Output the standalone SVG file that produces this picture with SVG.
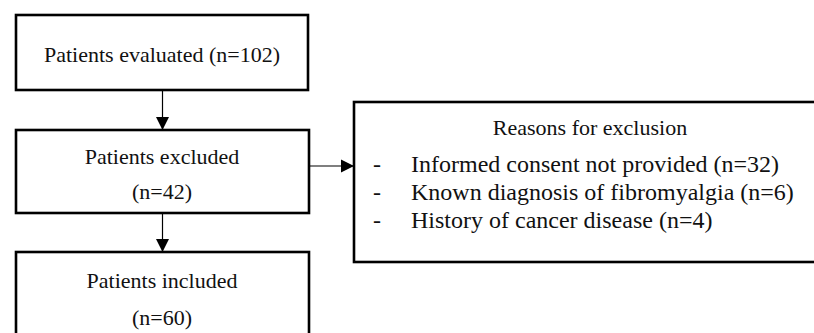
<svg xmlns="http://www.w3.org/2000/svg" width="814" height="333" viewBox="0 0 814 333">
<style>
.box{fill:#fff;stroke:#000;stroke-width:2.6}
.t{font-family:"Liberation Serif","Times New Roman",serif;font-size:22px;fill:#111}
.b{font-family:"Liberation Serif","Times New Roman",serif;font-size:24px;fill:#111}
.c{stroke:#000;stroke-width:1.2;fill:none}
</style>
<defs>
<marker id="ah" markerWidth="14" markerHeight="14" refX="13" refY="7" orient="auto" markerUnits="userSpaceOnUse">
<path d="M0,0.5 L13,7 L0,13.5 Z" fill="#000"/>
</marker>
</defs>
<rect width="814" height="333" fill="#fff"/>
<g id="evaluated">
<rect class="box" x="16" y="15" width="292" height="75"/>
<text class="t" x="162" y="62" text-anchor="middle">Patients evaluated (n=102)</text>
</g>
<g id="excluded">
<rect class="box" x="16" y="130" width="293" height="83"/>
<text class="t" x="162" y="164" text-anchor="middle">Patients excluded</text>
<text class="t" x="162" y="199" text-anchor="middle">(n=42)</text>
</g>
<g id="included">
<rect class="box" x="16" y="252" width="293" height="100"/>
<text class="t" x="162" y="288" text-anchor="middle">Patients included</text>
<text class="t" x="162" y="325" text-anchor="middle">(n=60)</text>
</g>
<g id="reasons">
<rect class="box" x="354" y="102" width="480" height="160"/>
<text class="t" x="590" y="135" text-anchor="middle">Reasons for exclusion</text>
<text class="b" x="373" y="172">-</text>
<text class="b" x="411" y="172">Informed consent not provided (n=32)</text>
<text class="b" x="373" y="200">-</text>
<text class="b" x="411" y="200">Known diagnosis of fibromyalgia (n=6)</text>
<text class="b" x="373" y="228">-</text>
<text class="b" x="411" y="228">History of cancer disease (n=4)</text>
</g>
<g id="connectors">
<line class="c" x1="162.5" y1="90" x2="162.5" y2="130" marker-end="url(#ah)"/>
<line class="c" x1="162.5" y1="213" x2="162.5" y2="252" marker-end="url(#ah)"/>
<line class="c" x1="309" y1="166" x2="354" y2="166" marker-end="url(#ah)"/>
</g>
</svg>
